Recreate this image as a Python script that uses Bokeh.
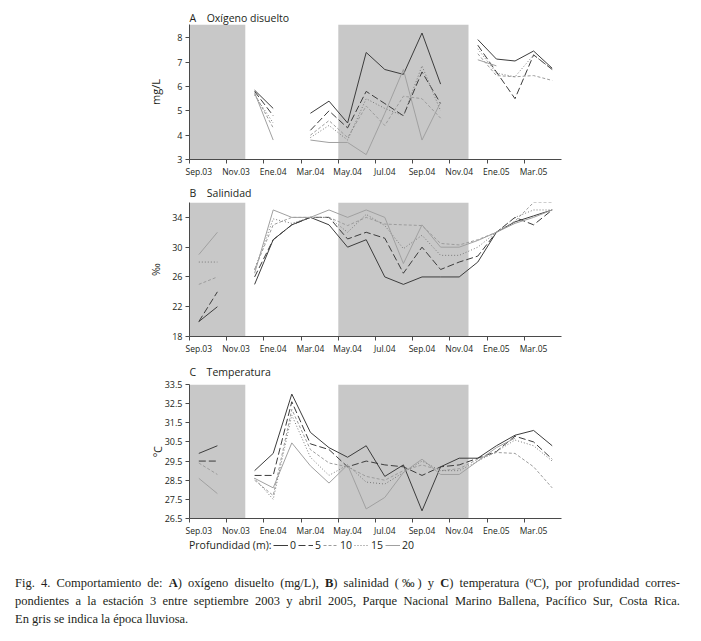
from bokeh.plotting import figure
from bokeh.models import FixedTicker, Legend, LegendItem, Div
from bokeh.layouts import column
from bokeh.embed import file_html
from bokeh.resources import INLINE

N = None

# --- categories (monthly samples, Sep 2003 - Apr 2005) ---
month_labels = ["Sep.03", "Oct.03", "Nov.03", "Dic.03", "Ene.04", "Feb.04", "Mar.04",
                "Abr.04", "May.04", "Jun.04", "Jul.04", "Ago.04", "Sep.04", "Oct.04",
                "Nov.04", "Dic.04", "Ene.05", "Feb.05", "Mar.05", "Abr.05"]
months = list(range(len(month_labels)))
tick_months = months[::2]

# rainy season (first and last month index of each period)
rain_first = [0, 8]
rain_last = [2, 14]

depths = ["0", "5", "10", "15", "20"]

# --- A) dissolved oxygen (mg/L) ---
ox0 = [N, N, N, 5.85, 5.1, N, 4.9, 5.4, 4.5, 7.4, 6.7, 6.5, 8.2, 6.1, N, 7.93, 7.13, 7.05, 7.46, 6.75]
ox5 = [N, N, N, 5.8, 4.8, N, 4.2, 5.0, 4.3, 5.8, 5.3, 4.8, 6.6, 5.3, N, 7.7, 6.6, 5.5, 7.3, 6.7]
ox10 = [N, N, N, 5.7, 4.3, N, 4.0, 4.6, 3.9, 5.2, 4.4, 5.6, 5.5, 4.7, N, 7.35, 6.45, 6.4, 6.45, 6.25]
ox15 = [N, N, N, 5.65, 4.5, N, 3.9, 4.4, 3.8, 5.5, 5.1, 4.8, 6.85, 5.0, N, 7.55, 6.55, 6.4, 7.3, 6.7]
ox20 = [N, N, N, 5.75, 3.8, N, 3.8, 3.7, 3.7, 3.2, 4.9, 6.7, 3.8, 5.35, N, 7.1, 6.85, N, N, N]

# --- B) salinity (per mille) ---
sal0 = [20, 22, N, 25, 31, 33, 34, 33, 30, 31, 26, 25, 26, 26, 26, 28, 32, 33.4, 34.2, 35]
sal5 = [20, 24, N, 26, 31, 33, 34, 34, 31.1, 32, 31.2, 26.5, 30, 27, 28, 28.8, 32, 34, 33, 35]
sal10 = [25, 26, N, 27, 33, 34, 34, 34, 32.9, 34, 33.1, 33, 32.9, 30.5, 30.3, 31, 32, 33.5, 36, 36]
sal15 = [28, 28, N, 27, 33.8, 33.2, 34, 34, 32, 34.4, 32.9, 29.8, 31.6, 28.9, 28.9, 30, 32, 34, 35, 35]
sal20 = [29, 32, N, 26.5, 35, 34, 34, 35, 34, 35, 34, 27.8, 33, 30, 30, 30.9, 32, 33.2, 34, 35]

# --- C) temperature (ºC) ---
t0 = [29.9, 30.3, N, 29.0, 29.9, 33.0, 31.0, 30.2, 29.7, 30.3, 28.7, 29.3, 26.9, 29.2, 29.65, 29.65, 30.3, 30.85, 31.1, 30.3]
t5 = [29.5, 29.5, N, 28.75, 28.75, 32.6, 30.4, 30.1, 29.2, 29.5, 29.3, 29.2, 28.75, 29.2, 29.3, 29.65, 30.0, 30.8, 30.5, 29.6]
t10 = [29.4, 28.8, N, 28.5, 27.7, 32.2, 30.1, 29.4, 29.2, 28.7, 28.5, 29.0, 29.3, 29.0, 29.1, 29.6, 29.95, 29.9, 29.2, 28.1]
t15 = [N, N, N, 28.6, 27.5, 31.9, 29.7, 28.75, 29.3, 28.4, 28.3, 28.9, 29.5, 29.0, 29.0, 29.5, 30.0, 30.6, 30.3, 29.5]
t20 = [28.6, 27.8, N, 28.6, 28.1, 30.45, 29.25, 28.35, 29.3, 27.0, 27.6, 28.9, 29.6, 28.8, 28.8, 29.5, 30.2, 30.7, N, N]

ox_ticks = [3, 4, 5, 6, 7, 8]
sal_ticks = [18, 22, 26, 30, 34]
t_ticks = [26.5, 27.5, 28.5, 29.5, 30.5, 31.5, 32.5, 33.5]

# styles per depth
STYLES = [("#3c3c3c", "solid"), ("#3c3c3c", "7 3"), ("#9c9c9c", "3 2"),
          ("#7a7a7a", "1 2"), ("#a0a0a0", "solid")]

FONT = "Open Sans"
TXT = "#231f20"
AX = "#4a4a4a"
W = 685
LEFT = 189
RIGHT = 124


def nanify(vals):
    return [float("nan") if v is None else v for v in vals]


def make_panel(series, y0, y1, yticks, ylabel, title, height, top, bottom,
               lab_standoff, title_standoff):
    p = figure(width=W, height=height, x_range=(-0.5, 19.5), y_range=(y0, y1),
               output_backend="svg", toolbar_location=None,
               min_border_left=LEFT, min_border_right=RIGHT,
               min_border_top=top, min_border_bottom=bottom)
    p.grid.visible = False
    p.outline_line_color = None

    p.title.text = title
    p.title.align = "left"
    p.title.offset = 0
    p.title.standoff = title_standoff
    p.title.text_font = FONT
    p.title.text_font_size = "10.5px"
    p.title.text_font_style = "normal"
    p.title.text_color = TXT

    p.quad(left=[m - 0.5 for m in rain_first], right=[m + 0.5 for m in rain_last],
           bottom=y0, top=y1, fill_color="#c8c8c8", line_color=None)

    for vals, (col, dash) in zip(series, STYLES):
        p.line(months, nanify(vals), line_color=col, line_dash=dash, line_width=1)

    xa = p.xaxis[0]
    xa.ticker = FixedTicker(ticks=tick_months, minor_ticks=[m - 0.5 for m in tick_months])
    xa.major_label_overrides = {m: month_labels[m] for m in tick_months}
    xa.major_tick_out = 0
    xa.major_tick_in = 0
    xa.major_tick_line_color = None
    xa.minor_tick_out = 4
    xa.minor_tick_in = 0
    xa.minor_tick_line_color = AX
    xa.axis_line_color = AX
    xa.major_label_standoff = 2
    xa.major_label_text_font = FONT
    xa.major_label_text_font_size = "8.5px"
    xa.major_label_text_color = TXT

    ya = p.yaxis[0]
    ya.ticker = FixedTicker(ticks=yticks)
    ya.major_tick_out = 4
    ya.major_tick_in = 0
    ya.minor_tick_line_color = None
    ya.major_tick_line_color = AX
    ya.axis_line_color = AX
    ya.major_label_standoff = 3
    ya.major_label_text_font = FONT
    ya.major_label_text_font_size = "9px"
    ya.major_label_text_color = TXT
    ya.axis_label = ylabel
    ya.axis_label_text_font = FONT
    ya.axis_label_text_font_style = "normal"
    ya.axis_label_text_font_size = "11px"
    ya.axis_label_text_color = TXT
    ya.axis_label_standoff = lab_standoff
    return p


pA = make_panel([ox0, ox5, ox10, ox15, ox20], 3, 8.55, ox_ticks, "mg/L",
                "A\u2003Oxígeno disuelto", 179, 24, 19, 11, 0)
pB = make_panel([sal0, sal5, sal10, sal15, sal20], 18, 36, sal_ticks, "‰",
                "B\u2003Salinidad", 177, 23, 18, 6, 6)
pC = make_panel([t0, t5, t10, t15, t20], 26.5, 33.5, t_ticks, "ºC",
                "C\u2003Temperatura", 182, 26, 19, -3, 12)

# legend row (own small figure, no axes)
pL = figure(width=W, height=14, x_range=(0, 1), y_range=(0, 1), x_axis_type=None,
            y_axis_type=None, toolbar_location=None, output_backend="svg", min_border=0)
pL.outline_line_color = None
pL.grid.visible = False

legend_style = dict(orientation="horizontal", margin=0, padding=0, spacing=2,
                    glyph_height=14, label_height=14, label_width=0,
                    border_line_color=None, background_fill_alpha=0,
                    label_text_font=FONT, label_text_font_size="10.5px",
                    label_text_color=TXT)

dummy = pL.line(x=[float("nan")], y=[float("nan")], line_alpha=0)
leg_title = Legend(items=[LegendItem(label="Profundidad (m):", renderers=[dummy])],
                   location=(0, 0), glyph_width=0, label_standoff=0, **legend_style)
pL.add_layout(leg_title)

items = []
for d, (col, dash) in zip(depths, STYLES):
    r = pL.line(x=[float("nan")], y=[float("nan")], line_color=col, line_dash=dash,
                line_width=1)
    items.append(LegendItem(label=d, renderers=[r]))
leg = Legend(items=items, location=(84, 0), glyph_width=15, label_standoff=2,
             **legend_style)
pL.add_layout(leg)

caption = (
    "<div style=\"font-family:'Liberation Serif',serif;font-size:12.5px;line-height:18px;"
    "color:#231f20;width:665px;margin-left:10px;padding-top:17px;\">"
    "<div style=\"text-align:justify;text-align-last:justify;\">Fig. 4. Comportamiento de: "
    "<b>A</b>) oxígeno disuelto (mg/L), <b>B</b>) salinidad (‰) y <b>C</b>) temperatura (ºC), "
    "por profundidad corres-</div>"
    "<div style=\"text-align:justify;text-align-last:justify;\">pondientes a la estación 3 "
    "entre septiembre 2003 y abril 2005, Parque Nacional Marino Ballena, Pacífico Sur, "
    "Costa Rica.</div>"
    "<div>En gris se indica la época lluviosa.</div></div>"
)
div = Div(text=caption, width=W, height=74)

layout = column(pA, pB, pC, pL, div)

open("out.html", "w").write(file_html(layout, INLINE))
